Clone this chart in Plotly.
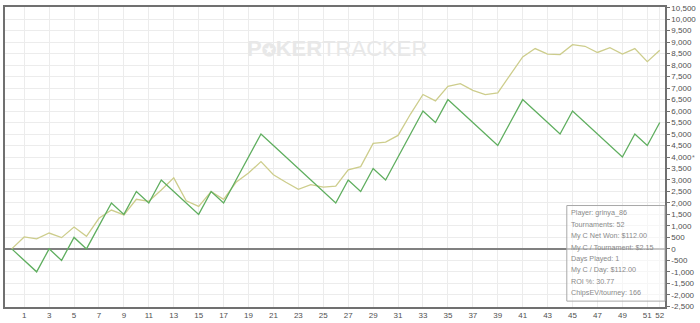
import plotly.graph_objects as go

tournaments = list(range(0, 53))

net_won = [0, -500, -1000, 0, -500, 500, 0, 1000, 2000, 1500,
           2500, 2000, 3000, 2500, 2000, 1500, 2500, 2000, 3000, 4000,
           5000, 4500, 4000, 3500, 3000, 2500, 2000, 3000, 2500, 3500,
           3000, 4000, 5000, 6000, 5500, 6500, 6000, 5500, 5000, 4500,
           5500, 6500, 6000, 5500, 5000, 6000, 5500, 5000, 4500, 4000,
           5000, 4500, 5500]

chips_ev = [0, 520, 440, 690, 490, 950, 550, 1330, 1690, 1480,
            2160, 2070, 2560, 3090, 2090, 1850, 2490, 2160, 2900, 3300,
            3800, 3230, 2900, 2590, 2800, 2690, 2730, 3440, 3580, 4590,
            4650, 4940, 5870, 6720, 6440, 7080, 7190, 6900, 6720, 6790,
            7580, 8360, 8720, 8480, 8460, 8890, 8820, 8550, 8760, 8480,
            8720, 8150, 8650]

x_tick_vals = list(range(1, 52, 2)) + [52]
x_tick_text = [str(v) for v in x_tick_vals]

y_tick_vals = list(range(-2500, 10501, 500))
y_tick_text = [f"{v:,}" for v in y_tick_vals]

info_lines = [
    "Player: grinya_86",
    "Tournaments: 52",
    "My C Net Won: $112.00",
    "My C / Tournament: $2.15",
    "Days Played: 1",
    "My C / Day: $112.00",
    "ROI %: 30.77",
    "ChipsEV/tourney: 166",
]

W, H = 700, 323
ML, MR, MT, MB = 3, 35, 4, 13
plot_h = H - MT - MB
plot_w = W - ML - MR

def yfrac(py):
    return (H - MB - py) / plot_h

def xfrac(px):
    return (px - ML) / plot_w

fig = go.Figure()
fig.add_trace(go.Scatter(x=tournaments, y=chips_ev, mode="lines",
                         line=dict(color="#cdcd8c", width=1.3), hoverinfo="skip"))
fig.add_trace(go.Scatter(x=tournaments, y=net_won, mode="lines",
                         line=dict(color="#5fae5f", width=1.3), hoverinfo="skip"))

font_fam = "Liberation Sans, Arial, sans-serif"

annotations = [
    dict(text="<b>P<span style='font-size:17px'>✪</span>KER</b>TRACKER",
         x=xfrac(336), y=yfrac(32), xref="paper", yref="paper",
         showarrow=False, font=dict(family="Liberation Sans, Arial", size=22, color="#e8e8e8")),
    dict(text="*", x=xfrac(697.5), y=yfrac(158), xref="paper", yref="paper",
         showarrow=False, font=dict(family=font_fam, size=7, color="#777777")),
]
for i, line in enumerate(info_lines):
    annotations.append(dict(text=line, x=xfrac(569), y=yfrac(214 + 11.6 * i),
                            xref="paper", yref="paper", xanchor="left", yanchor="middle",
                            showarrow=False,
                            font=dict(family=font_fam, size=7.2, color="#8a8a8a")))

shapes = [
    dict(type="rect", xref="paper", yref="paper",
         x0=xfrac(566.5), x1=1, y0=yfrac(304), y1=yfrac(206.5),
         line=dict(color="#a8a8a8", width=1), fillcolor="rgba(255,255,255,0.55)", layer="above"),
]

fig.update_layout(
    width=W, height=H,
    margin=dict(l=ML, r=MR, t=MT, b=MB, pad=0),
    paper_bgcolor="white", plot_bgcolor="white",
    showlegend=False,
    annotations=annotations,
    shapes=shapes,
    xaxis=dict(range=[-0.54, 52.42], tickvals=x_tick_vals, ticktext=x_tick_text,
               showgrid=True, gridcolor="#ececec", gridwidth=1,
               showline=True, linecolor="#707070", linewidth=1.5, mirror=True,
               ticks="", zeroline=False,
               tickfont=dict(family=font_fam, size=8, color="#505050")),
    yaxis=dict(range=[-2530, 10530], side="right", tickvals=y_tick_vals, ticktext=y_tick_text,
               showgrid=True, gridcolor="#ececec", gridwidth=1,
               showline=True, linecolor="#707070", linewidth=1.5, mirror=True,
               ticks="outside", ticklen=3, tickcolor="#707070",
               zeroline=True, zerolinecolor="#808080", zerolinewidth=1.5,
               tickfont=dict(family=font_fam, size=8, color="#505050")),
)

fig.write_html("out.html")
